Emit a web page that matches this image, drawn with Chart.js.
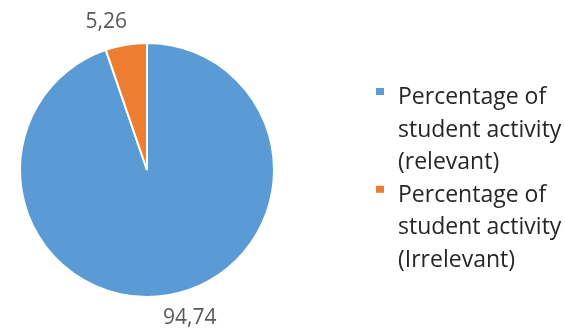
<!DOCTYPE html>
<html><head><meta charset="utf-8">
<script src="https://cdn.jsdelivr.net/npm/chart.js@4/dist/chart.umd.min.js"></script>
<style>html,body{margin:0;padding:0;background:#fff;}#wrap{width:565px;height:329px;}</style>
</head><body><div id="wrap"><canvas id="c" width="565" height="329"></canvas></div>
<script>
const categories = [
  ["Percentage of", "student activity", "(relevant)"],
  ["Percentage of", "student activity", "(Irrelevant)"]
];
const values = [94.74, 5.26];
const valueLabels = ["94,74", "5,26"];
const colors = ["#5B9BD5", "#ED7D31"];

const FONT = '"Open Sans", "Noto Sans", sans-serif';

const extras = {
  id: 'extras',
  afterDatasetsDraw(chart) {
    const ctx = chart.ctx;
    const meta = chart.getDatasetMeta(0);
    ctx.save();
    // value labels outside
    ctx.font = '21px ' + FONT;
    ctx.fillStyle = '#595959';
    ctx.textAlign = 'center';
    ctx.textBaseline = 'middle';
    meta.data.forEach((arc, i) => {
      const p = arc.getProps(['x','y','startAngle','endAngle','outerRadius'], true);
      const mid = (p.startAngle + p.endAngle) / 2;
      const r = p.outerRadius + 23;
      const c = Math.cos(mid), s = Math.sin(mid);
      const x = p.x + c * r + (c >= 0 ? 18 : -16);
      const y = p.y + s * r;
      ctx.fillText(valueLabels[i], x, y);
    });
    // legend
    ctx.font = '23px ' + FONT;
    ctx.textBaseline = 'alphabetic';
    const lx = 376, tx = 398;
    let y = 104;
    ctx.textAlign = 'left';
    categories.forEach((lines, i) => {
      ctx.fillStyle = colors[i];
      ctx.fillRect(lx, y - 16, 8, 7);
      ctx.fillStyle = '#262626';
      lines.forEach((t, j) => {
        ctx.fillText(t, tx, y);
        y += 32.6;
      });
    });
    ctx.restore();
  }
};

new Chart(document.getElementById('c'), {
  type: 'pie',
  data: {
    labels: categories.map(l => l.join(' ')),
    datasets: [{
      data: values,
      backgroundColor: colors,
      borderColor: '#ffffff',
      borderWidth: 2
    }]
  },
  options: {
    responsive: false,
    animation: false,
    layout: { padding: { top: 42, bottom: 31, left: 19, right: 290 } },
    plugins: { legend: { display: false }, tooltip: { enabled: false } }
  },
  plugins: [extras]
});
</script></body></html>
